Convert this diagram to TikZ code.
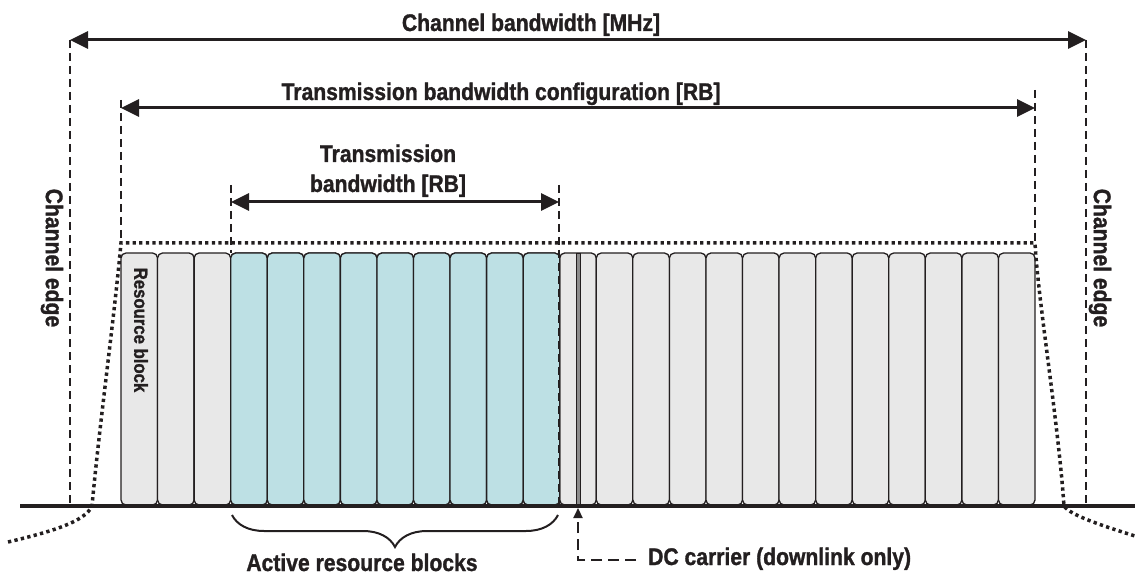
\documentclass[tikz,border=0pt]{standalone}
\usepackage{fontspec}
\setmainfont{Liberation Sans}[FakeStretch=0.88, BoldFeatures={FakeBold=1.2}]
\usepackage{xcolor}
\usetikzlibrary{arrows.meta,decorations.pathreplacing}

\definecolor{ink}{RGB}{35,31,32}
\definecolor{rbgray}{RGB}{232,232,232}
\definecolor{rbteal}{RGB}{189,224,228}
\definecolor{dcgray}{RGB}{140,140,140}

\tikzset{
    lbl/.style={text=ink, font=\fontsize{24}{30}\selectfont\bfseries, inner sep=0pt},
    smalllbl/.style={text=ink, font=\fontsize{19}{22}\selectfont\bfseries, inner sep=0pt},
    dimarrow/.style={{Triangle[length=18pt,width=17pt]}-{Triangle[length=18pt,width=17pt]}, line width=3pt, draw=ink},
    edgeline/.style={dash pattern=on 8pt off 5pt, line width=2pt, draw=ink},
    pointer/.style={dash pattern=on 11pt off 6pt, line width=2.2pt, draw=ink},
    envelope/.style={dash pattern=on 3.3pt off 3.3pt, line width=3.5pt, draw=ink},
    rb/.style={rounded corners=5pt, line width=1.3pt, draw=ink}
}

\begin{document}
\begin{tikzpicture}[x=1pt, y=-1pt]
    \useasboundingbox (0,0) rectangle (1135,577);

    % Draw resource blocks
    \foreach \i in {0,...,24}
    {
        \pgfmathsetmacro{\xa}{121+36.56*\i}
        \draw[rb, fill=rbgray] (\xa,253) rectangle (\xa+36.56,505);
    }

    % Active resource blocks
    \foreach \i in {3,...,11}
    {
        \pgfmathsetmacro{\xa}{121+36.56*\i}
        \draw[rb, fill=rbteal] (\xa,253) rectangle (\xa+36.56,505);
    }

    % DC carrier
    \draw[fill=dcgray, draw=ink, line width=0.8pt] (576,253) rectangle (580.5,505);

    % Spectrum envelope
    \draw[envelope] (8,542) .. controls (50,532) and (85,522) .. (92,506)
        .. controls (100,420) and (114,320) .. (121,243) -- (1035,243)
        .. controls (1038,300) and (1058,420) .. (1064,506)
        .. controls (1070,515) and (1100,525) .. (1135,536);

    % Reference points
    \coordinate (chL) at (70,40);
    \coordinate (chR) at (1086,40);
    \coordinate (chLbot) at (70,505);
    \coordinate (chRbot) at (1086,505);
    \coordinate (tbcL) at (121,108);
    \coordinate (tbcR) at (1035,108);
    \coordinate (tbcLtop) at (121,100);
    \coordinate (tbcRtop) at (1035,90);
    \coordinate (tbcLbot) at (121,243);
    \coordinate (tbcRbot) at (1035,243);
    \coordinate (tbL) at (231,202);
    \coordinate (tbR) at (559,202);
    \coordinate (tbLtop) at (231,185);
    \coordinate (tbRtop) at (559,185);
    \coordinate (tbLbot) at (231,253);
    \coordinate (tbRbot) at (559,505);
    \coordinate (brL) at (232,515);
    \coordinate (brR) at (558,515);
    \coordinate (dcTip) at (578,508);
    \coordinate (dcBend) at (578,560);
    \coordinate (dcEnd) at (636,560);

    % Dashed edges
    \draw[edgeline] (chL) -- (chLbot);
    \draw[edgeline] (chR) -- (chRbot);
    \draw[edgeline] (tbcLtop) -- (tbcLbot);
    \draw[edgeline] (tbcRtop) -- (tbcRbot);
    \draw[edgeline] (tbLtop) -- (tbLbot);
    \draw[edgeline] (tbRtop) -- (tbRbot);

    % Frequency axis
    \draw[line width=4pt, draw=ink] (20,506) -- (1135,506);

    % Bandwidth arrows
    \draw[dimarrow] (chL) -- (chR);
    \draw[dimarrow] (tbcL) -- (tbcR);
    \draw[dimarrow] (tbL) -- (tbR);

    % Brace under active blocks
    \draw[line width=2pt, draw=ink, decorate, decoration={brace, amplitude=32pt, aspect=0.5}] (brR) -- (brL);

    % DC carrier pointer
    \draw[pointer, -{Triangle[length=10pt,width=9pt]}] (dcEnd) -- (dcBend) -- (dcTip);

    % Add labels
    \node[lbl, anchor=base] (chTitle) at (531,31) {Channel bandwidth [MHz]};
    \node[lbl, anchor=base] (tbcTitle) at (501,100) {Transmission bandwidth configuration [RB]};
    \node[lbl, anchor=base] (tbTitleA) at (388,162) {Transmission};
    \node[lbl, anchor=base] (tbTitleB) at (388,192) {bandwidth [RB]};
    \node[lbl, rotate=-90] (edgeL) at (52,258) {Channel edge};
    \node[lbl, rotate=-90] (edgeR) at (1100,258) {Channel edge};
    \node[smalllbl, rotate=-90] (rbLabel) at (141,330) {Resource block};
    \node[lbl, anchor=base] (activeLabel) at (362,571) {Active resource blocks};
    \node[lbl, anchor=base west] (dcLabel) at (648,565) {DC carrier (downlink only)};
\end{tikzpicture}
\end{document}
